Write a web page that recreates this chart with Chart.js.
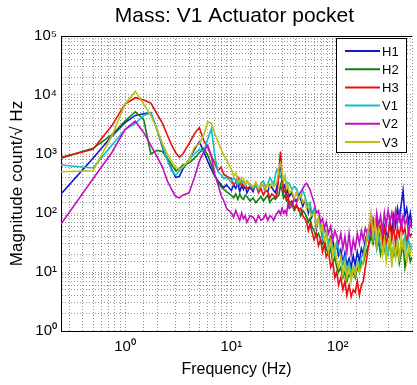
<!DOCTYPE html>
<html>
<head>
<meta charset="utf-8">
<script src="https://cdn.jsdelivr.net/npm/chart.js@4.4.1/dist/chart.umd.min.js"></script>
<style>
  html, body { margin: 0; padding: 0; overflow: hidden; background: #fff; }
</style>
</head>
<body>
<canvas id="massChart" width="419" height="385"></canvas>
<script>
const chartTitle = 'Mass: V1 Actuator pocket';

// frequency points (Hz)
const freqs = [
    0.25, 0.5, 0.75, 1, 1.25, 1.5, 1.75, 2, 2.25, 2.5,
    2.75, 3, 3.25, 3.5, 4, 4.5, 5, 5.5, 6, 6.5,
    7, 7.5, 8, 8.5, 9,
    10, 10.5, 11, 11.5, 12, 12.5, 13, 13.5, 14, 15,
    16, 17, 18, 19, 20, 21, 22, 23, 24, 25,
    26, 27, 28, 29, 30, 31, 32, 33, 34, 35,
    37, 39, 41, 43, 45, 47, 49, 51, 53, 55,
    57, 60, 63, 66, 69, 72, 75, 78, 82, 86,
    90, 94, 98, 102, 107, 112, 117, 122, 128, 134,
    140, 146, 153, 160, 167, 174, 182, 190, 198, 206,
    215, 224, 233, 243, 253, 264, 275, 286, 298, 310,
    323, 336, 350, 365, 380, 396, 412, 429, 446, 464,
    482, 500
];

const h1 = [
    210, 850, 2000, 3400, 4500, 4800, 5000, 2600, 1300, 800,
    550, 400, 420, 560, 800, 1200, 1600, 1100, 750, 550,
    420, 350, 300, 270, 300,
    240, 300, 260, 320, 230, 290, 250, 300, 220, 280,
    230, 320, 250, 300, 290, 240, 230, 300, 270, 240,
    220, 300, 420, 850, 330, 260, 300, 210, 250, 190,
    220, 170, 160, 200, 170, 130, 160, 150, 100, 120,
    85, 110, 55, 80, 60, 38, 55, 48, 28, 40,
    34, 22, 30, 19, 24, 14, 21, 13, 17, 12,
    19, 13, 22, 15, 25, 20, 35, 45, 60, 45,
    70, 40, 35, 60, 55, 30, 60, 45, 40, 75,
    45, 90, 60, 120, 80, 140, 240, 90, 120, 70,
    100, 60
];

const h2 = [
    850, 1250, 2100, 3600, 5200, 3800, 1000, 1150, 1100, 850,
    650, 520, 560, 650, 700, 850, 1050, 1250, 950, 650,
    430, 330, 280, 250, 230,
    200, 180, 210, 170, 210, 180, 170, 200, 190, 160,
    180, 150, 170, 190, 160, 180, 200, 150, 170, 180,
    170, 190, 200, 300, 240, 180, 200, 160, 170, 130,
    150, 110, 130, 120, 90, 110, 100, 85, 70, 80,
    60, 50, 40, 45, 35, 30, 35, 25, 20, 25,
    14, 18, 12, 10, 12, 8, 10, 7, 9, 8,
    10, 8, 12, 10, 15, 14, 20, 25, 30, 40,
    30, 45, 25, 35, 20, 30, 25, 18, 25, 30,
    15, 22, 18, 25, 14, 20, 30, 12, 18, 22,
    15, 18
];

const h3 = [
    880, 1200, 3000, 7000, 9000, 8200, 7300, 4800, 3300, 2100,
    1400, 1050, 880, 1000, 1500, 2200, 2800, 1700, 1300, 900,
    700, 520, 600, 450, 420,
    380, 300, 330, 400, 300, 350, 280, 300, 260, 280,
    250, 300, 220, 260, 200, 240, 230, 180, 210, 200,
    180, 220, 500, 1100, 400, 220, 250, 180, 200, 150,
    160, 120, 140, 110, 120, 90, 80, 70, 50, 65,
    50, 35, 45, 28, 35, 22, 30, 18, 22, 12,
    15, 8, 10, 6, 8, 5, 7, 4, 6, 3.8,
    5, 4.5, 7, 4, 6, 7, 12, 20, 35, 75,
    60, 40, 85, 35, 55, 30, 60, 28, 45, 70,
    35, 60, 30, 55, 40, 70, 45, 55, 30, 50,
    40, 45
];

const v1 = [
    650, 580, 1400, 2600, 3300, 4500, 5000, 2600, 1400, 800,
    520, 440, 520, 600, 800, 1000, 1200, 1100, 1800, 2700,
    900, 500, 450, 380, 400,
    330, 400, 360, 300, 380, 320, 350, 290, 350, 300,
    260, 300, 250, 320, 350, 280, 300, 400, 350, 300,
    450, 550, 500, 400, 380, 350, 420, 280, 330, 320,
    250, 280, 260, 200, 190, 240, 200, 150, 130, 150,
    100, 120, 60, 80, 70, 40, 55, 50, 30, 35,
    25, 20, 30, 25, 18, 14, 18, 10, 14, 9,
    12, 10, 15, 12, 18, 20, 28, 35, 45, 50,
    35, 45, 25, 40, 30, 22, 35, 28, 20, 30,
    18, 28, 22, 35, 20, 25, 30, 40, 25, 35,
    25, 30
];

const v2 = [
    65, 380, 1050, 2600, 3600, 2300, 1400, 900, 600, 350,
    250, 190, 180, 200, 220, 400, 750, 1100, 1400, 900,
    450, 300, 200, 160, 120,
    100, 85, 110, 90, 75, 100, 80, 90, 70, 90,
    85, 70, 90, 75, 80, 95, 75, 90, 85, 75,
    90, 100, 110, 95, 120, 100, 110, 95, 140, 120,
    130, 170, 150, 200, 230, 260, 300, 320, 280, 250,
    200, 150, 100, 110, 70, 80, 55, 70, 45, 60,
    35, 50, 40, 30, 45, 25, 40, 22, 45, 20,
    35, 25, 45, 30, 50, 35, 55, 45, 60, 45,
    80, 50, 100, 60, 90, 50, 100, 60, 110, 70,
    100, 60, 110, 70, 100, 55, 90, 65, 80, 45,
    70, 55
];

const v3 = [
    500, 520, 2000, 7000, 11500, 7000, 4500, 2600, 1500, 1000,
    750, 600, 550, 600, 800, 1300, 1500, 2100, 3500, 3300,
    2200, 1600, 1200, 950, 800,
    550, 420, 480, 350, 330, 400, 380, 300, 340, 300,
    280, 330, 260, 300, 300, 250, 320, 270, 320, 280,
    300, 350, 600, 700, 500, 350, 420, 260, 300, 220,
    240, 180, 220, 170, 200, 150, 170, 120, 130, 100,
    90, 100, 60, 80, 50, 60, 35, 45, 22, 35,
    18, 28, 15, 12, 18, 9, 14, 8, 12, 7,
    12, 9, 14, 10, 12, 15, 25, 45, 60, 100,
    40, 70, 30, 55, 45, 20, 35, 15, 28, 40,
    12, 30, 18, 35, 15, 40, 25, 30, 15, 25,
    20, 30
];

const seriesNames = ['H1', 'H2', 'H3', 'V1', 'V2', 'V3'];
const seriesValues = [h1, h2, h3, v1, v2, v3];
const seriesColors = ['#1018d0', '#108010', '#e81010', '#10c0c8', '#c010c0', '#c0c010'];

const xTickValues = [1, 10, 100];
const xTickLabels = ['10⁰', '10¹', '10²'];
const yTickValues = [1, 10, 100, 1000, 10000, 100000];
const yTickLabels = ['10⁰', '10¹', '10²', '10³', '10⁴', '10⁵'];

const FONT = '"Liberation Sans", Arial, sans-serif';
Chart.defaults.font.family = FONT;
Chart.defaults.color = '#000';

function decadeLabel(values, labels) {
    return (v) => {
        const k = values.findIndex(t => Math.abs(t - v) / t < 1e-6);
        return k < 0 ? '' : labels[k];
    };
}

// title, top frame line and the boxed legend inside the axes
const frameAndLegend = {
    id: 'frameAndLegend',
    afterDraw(chart) {
        const {ctx, chartArea: a} = chart;
        ctx.save();
        ctx.strokeStyle = '#000';
        ctx.lineWidth = 1;
        ctx.beginPath();
        ctx.moveTo(a.left, a.top + 0.5);
        ctx.lineTo(a.right, a.top + 0.5);
        ctx.stroke();

        ctx.fillStyle = '#000';
        ctx.font = '21px ' + FONT;
        ctx.textAlign = 'center';
        ctx.textBaseline = 'alphabetic';
        ctx.fillText(chartTitle, (a.left + a.right) / 2 - 2, 22);

        const bx = Math.round(a.right - 76), by = Math.round(a.top + 2), bw = 70, bh = 114;
        ctx.fillStyle = '#fff';
        ctx.fillRect(bx, by, bw, bh);
        ctx.strokeStyle = '#000';
        ctx.strokeRect(bx + 0.5, by + 0.5, bw, bh);
        ctx.font = '13px ' + FONT;
        ctx.textAlign = 'left';
        ctx.textBaseline = 'middle';
        chart.data.datasets.forEach((ds, i) => {
            const y = by + 13 + i * 18.2;
            ctx.strokeStyle = ds.borderColor;
            ctx.lineWidth = 2;
            ctx.beginPath();
            ctx.moveTo(bx + 9, y);
            ctx.lineTo(bx + 44, y);
            ctx.stroke();
            ctx.fillStyle = '#000';
            ctx.fillText(ds.label, bx + 46, y + 1);
        });
        ctx.restore();
    }
};

const ctx = document.getElementById('massChart').getContext('2d');
const massChart = new Chart(ctx, {
    type: 'line',
    data: {
        datasets: seriesNames.map((name, i) => ({
            label: name,
            data: freqs.map((f, j) => ({x: f, y: seriesValues[i][j]})),
            borderColor: seriesColors[i],
            borderWidth: 1.6,
            pointRadius: 0,
            tension: 0,
            fill: false,
            order: seriesNames.length - i   // last series drawn on top, like MATLAB
        }))
    },
    options: {
        responsive: false,
        animation: false,
        layout: { padding: { top: 36, right: 0, bottom: 0, left: 0 } },
        plugins: {
            legend: { display: false },
            tooltip: { enabled: false },
            title: { display: false }
        },
        scales: {
            x: {
                type: 'logarithmic',
                min: 0.25,
                max: 500,
                afterFit: (s) => { s.height = 54; },
                grid: { color: 'rgba(0,0,0,0.42)', drawTicks: false },
                border: { color: '#000', width: 1, dash: [1, 2] },
                ticks: {
                    autoSkip: false,
                    maxRotation: 0,
                    padding: 7,
                    font: { size: 15 },
                    callback: decadeLabel(xTickValues, xTickLabels)
                },
                title: {
                    display: true,
                    text: 'Frequency (Hz)',
                    font: { size: 16 },
                    padding: { top: 0, bottom: 6 }
                }
            },
            y: {
                type: 'logarithmic',
                min: 1,
                max: 100000,
                afterFit: (s) => { s.width = 61; },
                grid: { color: 'rgba(0,0,0,0.42)', drawTicks: false },
                border: { color: '#000', width: 1, dash: [1, 2] },
                ticks: {
                    autoSkip: false,
                    padding: 4,
                    font: { size: 15 },
                    callback: decadeLabel(yTickValues, yTickLabels)
                },
                title: {
                    display: true,
                    text: 'Magnitude count/√ Hz',
                    font: { size: 17 },
                    padding: { top: 7, bottom: 0 }
                }
            }
        }
    },
    plugins: [frameAndLegend]
});
</script>
</body>
</html>
